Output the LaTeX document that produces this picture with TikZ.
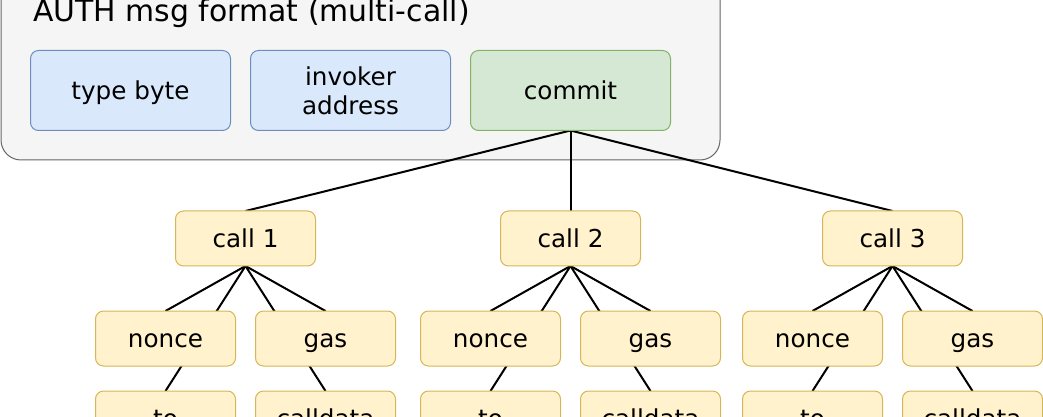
\documentclass[tikz,border=0pt]{standalone}
\usepackage{fontspec}
\setmainfont{DejaVu Sans}
\pgfdeclarelayer{bg}
\pgfdeclarelayer{lines}
\pgfsetlayers{bg,lines,main}
\definecolor{outerfill}{HTML}{F5F5F5}
\definecolor{outerdraw}{HTML}{666666}
\definecolor{bluefill}{HTML}{DAE8FC}
\definecolor{bluedraw}{HTML}{6C8EBF}
\definecolor{greenfill}{HTML}{D5E8D4}
\definecolor{greendraw}{HTML}{82B366}
\definecolor{yellowfill}{HTML}{FFF2CC}
\definecolor{yellowdraw}{HTML}{D6B656}
\tikzset{
  boxbase/.style={rectangle, rounded corners=6pt, line width=0.75pt, inner sep=0pt, outer sep=0pt,
    font=\fontsize{18.5}{22}\selectfont},
  oneline/.style={text height=17.2pt, text depth=4.4pt},
  topblue/.style={boxbase, fill=bluefill, draw=bluedraw, minimum width=150pt, minimum height=60pt},
  topgreen/.style={boxbase, fill=greenfill, draw=greendraw, minimum width=150pt, minimum height=60pt},
  field/.style={boxbase, oneline, fill=yellowfill, draw=yellowdraw, minimum width=105pt, minimum height=41.25pt},
  outerbox/.style={rectangle, rounded corners=15pt, line width=0.75pt, fill=outerfill, draw=outerdraw,
    inner sep=0pt, outer sep=0pt, minimum width=539.25pt, minimum height=135pt},
  link/.style={line width=1.5pt, black},
}
\begin{document}
\begin{tikzpicture}[x=0.75pt,y=-0.75pt]
\clip (0,0) rectangle (1043,417);
\begin{pgfonlayer}{bg}
\node[outerbox] (frame) at (360.5,70) {};
\end{pgfonlayer}
\node[anchor=base west, inner sep=0pt, font=\fontsize{22.4}{26}\selectfont] (title) at (33,21.5) {AUTH msg format (multi-call)};
\node[topblue, oneline] (type) at (130.5,90.5) {type byte};
\node[topblue, align=center] (invoker) at (350.5,90.5) {invoker\\address};
\node[topgreen, oneline] (commit) at (570.5,90.5) {commit};
\node[field] (call1) at (245.5,238.5) {call 1};
\node[field] (call2) at (570.5,238.5) {call 2};
\node[field] (call3) at (892.5,238.5) {call 3};
\node[field] (nonce1) at (165.5,338.5) {nonce};
\node[field] (gas1) at (325.5,338.5) {gas};
\node[field] (to1) at (165.5,418.5) {to};
\node[field] (cd1) at (325.5,418.5) {calldata};
\node[field] (nonce2) at (490.5,338.5) {nonce};
\node[field] (gas2) at (650.5,338.5) {gas};
\node[field] (to2) at (490.5,418.5) {to};
\node[field] (cd2) at (650.5,418.5) {calldata};
\node[field] (nonce3) at (812.5,338.5) {nonce};
\node[field] (gas3) at (972.5,338.5) {gas};
\node[field] (to3) at (812.5,418.5) {to};
\node[field] (cd3) at (972.5,418.5) {calldata};
\begin{pgfonlayer}{lines}
\foreach \c in {call1,call2,call3}
  \draw[link] (commit.south) -- (\c.north);
\foreach \i in {1,2,3}{
  \draw[link] (call\i.south) -- (nonce\i.north);
  \draw[link] (call\i.south) -- (gas\i.north);
  \draw[link] (call\i.south) -- (to\i.north);
  \draw[link] (call\i.south) -- (cd\i.north);
}
\end{pgfonlayer}
\end{tikzpicture}
\end{document}
